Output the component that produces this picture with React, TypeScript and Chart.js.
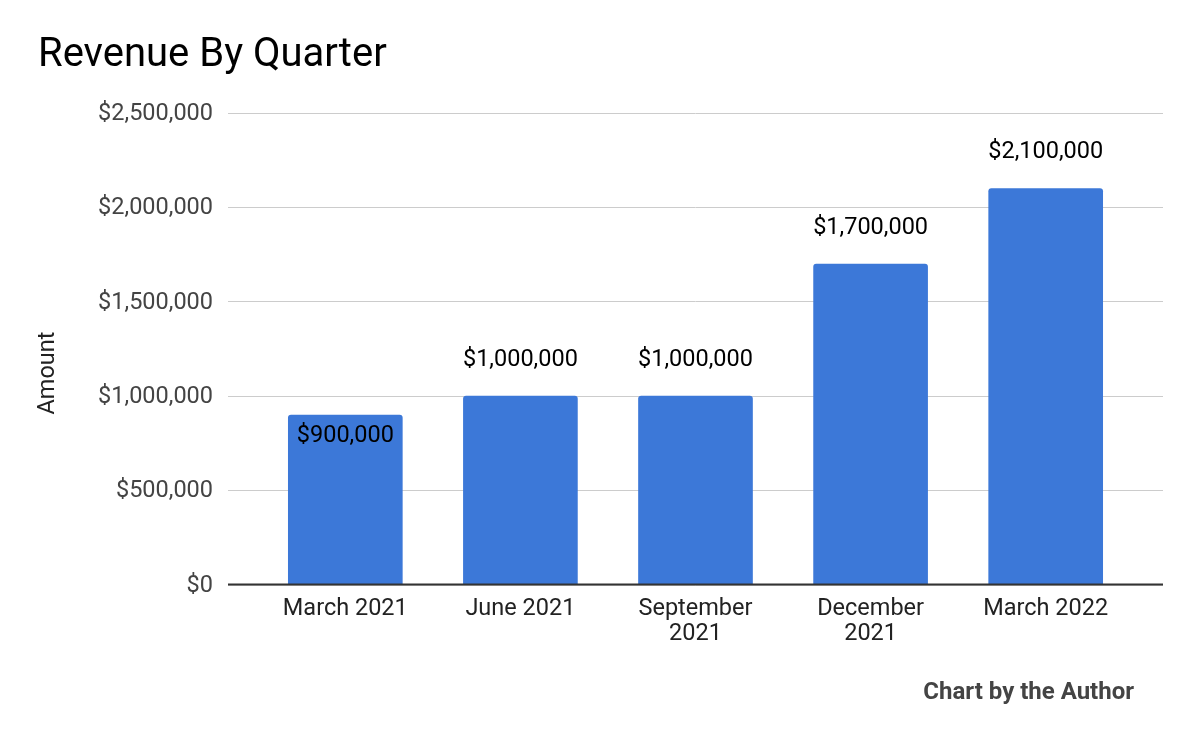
import { useEffect, useRef } from "react";
import { Chart, registerables } from "chart.js";
Chart.register(...registerables);

const categories: string[][] = [
  ["March 2021"],
  ["June 2021"],
  ["September", "2021"],
  ["December", "2021"],
  ["March 2022"],
];
const revenue: number[] = [900000, 1000000, 1000000, 1700000, 2100000];
const yTicks: number[] = [0, 500000, 1000000, 1500000, 2000000, 2500000];
const labelInside: boolean[] = [true, false, false, false, false];
const titleText = "Revenue By Quarter";
const yAxisTitle = "Amount";
const footerText = "Chart by the Author";

const fmt = (v: number) => "$" + v.toLocaleString("en-US");

const overlay = {
  id: "overlay",
  afterDatasetsDraw(chart: any) {
    const ctx = chart.ctx as CanvasRenderingContext2D;
    const { left, right, bottom } = chart.chartArea;
    ctx.save();
    ctx.strokeStyle = "#333333";
    ctx.lineWidth = 2;
    ctx.beginPath();
    ctx.moveTo(left, bottom - 0.5);
    ctx.lineTo(right, bottom - 0.5);
    ctx.stroke();

    const meta = chart.getDatasetMeta(0);
    ctx.font = "23.5px Roboto";
    ctx.fillStyle = "#000000";
    ctx.textAlign = "center";
    ctx.textBaseline = "middle";
    meta.data.forEach((bar: any, i: number) => {
      const y = labelInside[i] ? bar.y + 21 : bar.y - 36;
      ctx.fillText(fmt(revenue[i]), bar.x, y);
    });

    ctx.textAlign = "left";
    ctx.font = "40px Roboto";
    ctx.fillStyle = "#000000";
    ctx.fillText(titleText, 38, 56);

    ctx.save();
    ctx.translate(48, 373);
    ctx.rotate(-Math.PI / 2);
    ctx.textAlign = "center";
    ctx.font = "23.5px Roboto";
    ctx.fillStyle = "#222222";
    ctx.fillText(yAxisTitle, 0, 0);
    ctx.restore();

    ctx.textAlign = "right";
    ctx.font = "bold 24px Roboto";
    ctx.fillStyle = "#444444";
    ctx.fillText(footerText, 1134, 693);
    ctx.restore();
  },
};

export default function App() {
  const ref = useRef<HTMLCanvasElement>(null);
  useEffect(() => {
    document.body.style.margin = "0";
    const chart = new Chart(ref.current!, {
      type: "bar",
      data: {
        datasets: [
          {
            data: revenue.map((v, i) => ({ x: i, y: v })) as any,
            backgroundColor: "#3c78d8",
            barThickness: 114,
            borderRadius: 3,
            borderSkipped: "start",
          },
        ],
      },
      options: {
        animation: false,
        responsive: false,
        devicePixelRatio: 1,
        layout: { padding: { top: 113, right: 37, left: 0, bottom: 0 } },
        plugins: { legend: { display: false }, tooltip: { enabled: false }, title: { display: false } },
        scales: {
          x: {
            type: "linear",
            offset: false,
            min: -0.67,
            max: 4.67,
            afterBuildTicks: (s: any) => {
              s.ticks = categories.map((_, i) => ({ value: i }));
            },
            afterFit: (s: any) => {
              s.height = 157;
            },
            grid: { display: false, drawTicks: false, offset: false },
            border: { display: false },
            ticks: {
              autoSkip: false,
              maxRotation: 0,
              padding: 12,
              color: "#222222",
              font: { family: "Roboto", size: 23.5, lineHeight: 1.064 },
              callback: (v: any) => categories[Math.round(Number(v))] as any,
            },
          },
          y: {
            min: 0,
            max: 2500000,
            afterBuildTicks: (s: any) => {
              s.ticks = yTicks.map((v) => ({ value: v }));
            },
            afterFit: (s: any) => {
              s.width = 228;
            },
            grid: { color: "#cccccc", lineWidth: 1, drawTicks: false },
            border: { display: false },
            ticks: {
              padding: 15,
              labelOffset: 1,
              color: "#444444",
              font: { family: "Roboto", size: 23.5 },
              callback: (v: any) => fmt(Number(v)),
            },
          },
        },
      },
      plugins: [overlay],
    });
    return () => chart.destroy();
  }, []);
  return <canvas ref={ref} width={1200} height={742} style={{ display: "block" }} />;
}
